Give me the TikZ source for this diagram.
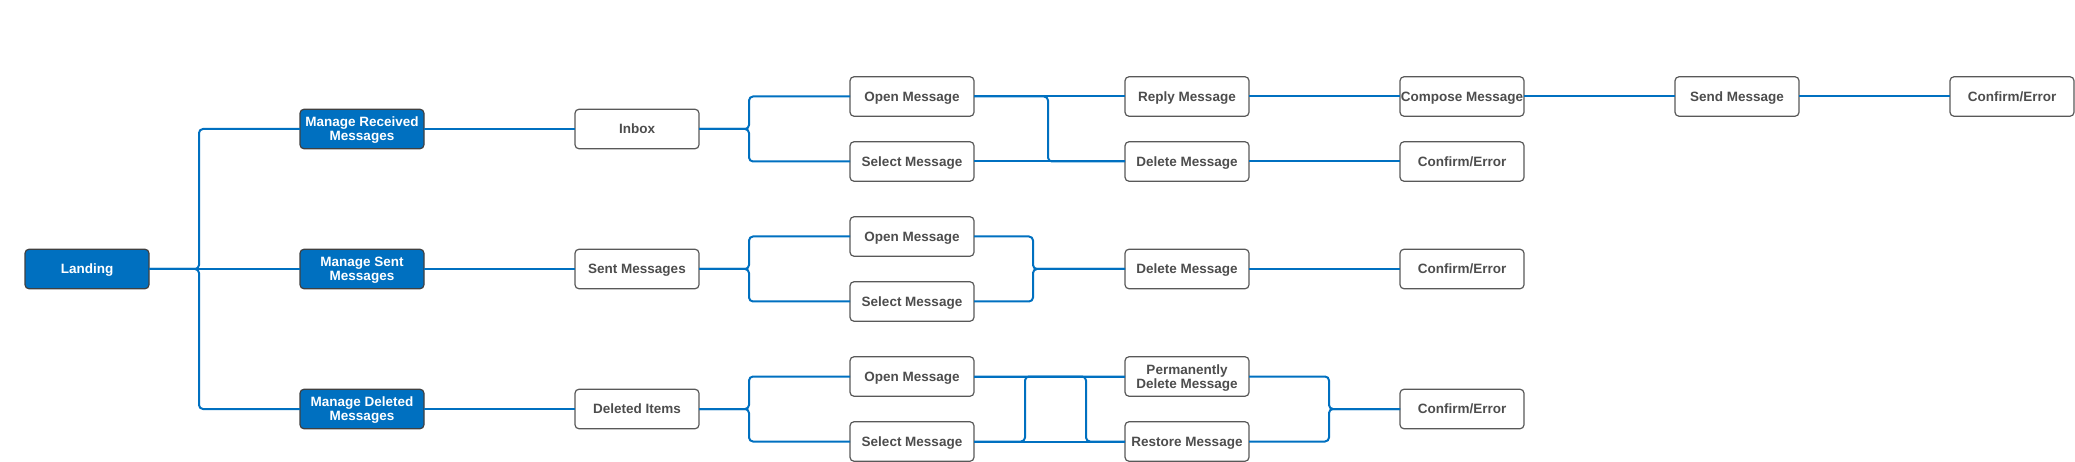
\documentclass[tikz,border=0pt]{standalone}
\usepackage{fontspec}
\setmainfont{Liberation Sans}
\usetikzlibrary{positioning}
\definecolor{linkblue}{RGB}{0,112,192}
\definecolor{screenfill}{RGB}{0,112,192}
\definecolor{screendraw}{RGB}{64,64,64}
\definecolor{actiondraw}{RGB}{89,89,89}
\definecolor{actiontext}{RGB}{77,77,77}

\begin{document}
\begin{tikzpicture}[
  x=1pt, y=1pt,
  font=\fontsize{13.5}{14}\selectfont\bfseries,
  screen/.style={rounded corners=4pt, draw=screendraw, fill=screenfill, text=white,
                 line width=1.2pt, align=center, minimum width=124pt,
                 minimum height=39.5pt, inner sep=0pt, outer sep=0pt, text depth=0pt},
  action/.style={screen, fill=white, draw=actiondraw, text=actiontext},
  wire/.style={draw=linkblue, line width=2pt, rounded corners=4pt}
]
\useasboundingbox (0,0) rectangle (2075,-462);

% Entry screen and the three mail areas
\node[screen] (landing) at (87,-269) {Landing};
\node[screen] (mrec)  at (362,-129) {Manage Received\\Messages};
\node[screen] (msent) at (362,-269) {Manage Sent\\Messages};
\node[screen] (mdel)  at (362,-409) {Manage Deleted\\Messages};

% Folders
\node[action] (inbox)   at (637,-129) {Inbox};
\node[action] (sent)    at (637,-269) {Sent Messages};
\node[action] (deleted) at (637,-409) {Deleted Items};

% Received branch
\node[action] (openR) at (912,-96.5)  {Open Message};
\node[action] (selR)  at (912,-161.5) {Select Message};
\node[action, right=151pt of openR] (reply)    {Reply Message};
\node[action, right=151pt of selR]  (delR)     {Delete Message};
\node[action, right=151pt of reply] (compose)  {Compose Message};
\node[action, right=151pt of delR]  (confR)    {Confirm/Error};
\node[action, right=151pt of compose] (send)   {Send Message};
\node[action, right=151pt of send]  (confSend) {Confirm/Error};

% Sent branch
\node[action] (openS) at (912,-236.5) {Open Message};
\node[action] (selS)  at (912,-301.5) {Select Message};
\node[action] (delS)  at (1187,-269)  {Delete Message};
\node[action, right=151pt of delS] (confS) {Confirm/Error};

% Deleted branch
\node[action] (openD) at (912,-376.5) {Open Message};
\node[action] (selD)  at (912,-441.5) {Select Message};
\node[action, right=151pt of openD] (permD) {Permanently\\Delete Message};
\node[action, right=151pt of selD]  (restD) {Restore Message};
\node[action] (confD) at (1462,-409) {Confirm/Error};

% Junction points of the brackets
\coordinate (hub0) at (199,-269);
\coordinate (hubR) at (749,-129);
\coordinate (hubS) at (749,-269);
\coordinate (hubD) at (749,-409);
\coordinate (forkR) at (1048,-96.5);
\coordinate (hubM) at (1033,-269);
\coordinate (forkD1) at (1025,-441.5);
\coordinate (forkD2) at (1086,-376.5);
\coordinate (hubC) at (1329,-409);

% Landing fans out
\draw[wire] (landing.east) -- (hub0) |- (mrec.west);
\draw[wire] (landing.east) -- (msent.west);
\draw[wire] (landing.east) -- (hub0) |- (mdel.west);
\draw[wire] (mrec) -- (inbox);
\draw[wire] (msent) -- (sent);
\draw[wire] (mdel) -- (deleted);

% Folders fan out to open / select
\draw[wire] (inbox.east) -- (hubR) |- (openR.west);
\draw[wire] (inbox.east) -- (hubR) |- (selR.west);
\draw[wire] (sent.east) -- (hubS) |- (openS.west);
\draw[wire] (sent.east) -- (hubS) |- (selS.west);
\draw[wire] (deleted.east) -- (hubD) |- (openD.west);
\draw[wire] (deleted.east) -- (hubD) |- (selD.west);

% Received flow
\draw[wire] (openR) -- (reply);
\draw[wire] (openR.east) -- (forkR) |- (delR.west);
\draw[wire] (selR) -- (delR);
\draw[wire] (reply) -- (compose);
\draw[wire] (compose) -- (send);
\draw[wire] (send) -- (confSend);
\draw[wire] (delR) -- (confR);

% Sent flow
\draw[wire] (openS.east) -| (hubM) -- (delS.west);
\draw[wire] (selS.east) -| (hubM) -- (delS.west);
\draw[wire] (delS) -- (confS);

% Deleted flow
\draw[wire] (openD) -- (permD);
\draw[wire] (selD) -- (restD);
\draw[wire] (selD.east) -- (forkD1) |- (permD.west);
\draw[wire] (openD.east) -- (forkD2) |- (restD.west);
\draw[wire] (permD.east) -| (hubC) -- (confD.west);
\draw[wire] (restD.east) -| (hubC) -- (confD.west);

\end{tikzpicture}
\end{document}
